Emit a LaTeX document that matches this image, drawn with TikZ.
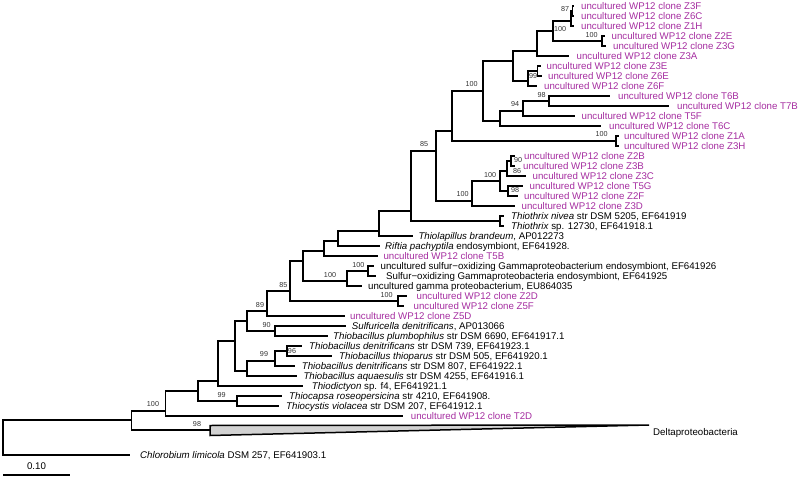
\documentclass[tikz,border=0pt]{standalone}
\usepackage{fontspec}
\setmainfont{Liberation Sans}
\usetikzlibrary{calc}
\definecolor{clone}{RGB}{165,45,160}
% internal node: x, then the two leaves its height lies between
\newcommand\inode[4]{\path let \p1=(#3), \p2=(#4) in coordinate (#1) at (#2pt,{0.5*(\y1+\y2)});}
\newcommand\lf[6][black]{\node[leaf,text=#1,inner xsep=#5pt] (#2) at (#3,#4) {#6};}
\newcommand\bb[2]{\draw[br] (#1) |- (#2);}
\begin{document}
\begin{tikzpicture}[x=1pt,y=-1pt,
  leaf/.style={anchor=west, inner ysep=0pt, text height=7pt, text depth=0pt, font=\fontsize{9.7}{11}\selectfont},
  bs/.style={inner sep=0pt, font=\fontsize{7.2}{8}\selectfont, text=black!80},
  br/.style={line width=1.5pt}]
\useasboundingbox (0,0) rectangle (800,478);
% leaves
\lf[clone]{Z3F}{574}{6}{7}{uncultured WP12 clone Z3F}
\lf[clone]{Z6C}{574}{16}{7}{uncultured WP12 clone Z6C}
\lf[clone]{Z1H}{574}{26}{7}{uncultured WP12 clone Z1H}
\lf[clone]{Z2E}{604.5}{36}{7}{uncultured WP12 clone Z2E}
\lf[clone]{Z3G}{606}{46}{7}{uncultured WP12 clone Z3G}
\lf[clone]{Z3A}{569}{56}{7.5}{uncultured WP12 clone Z3A}
\lf[clone]{Z3E}{540.5}{66}{6}{uncultured WP12 clone Z3E}
\lf[clone]{Z6E}{541.5}{76}{6.5}{uncultured WP12 clone Z6E}
\lf[clone]{Z6F}{537}{86}{7}{uncultured WP12 clone Z6F}
\lf[clone]{T6B}{610}{96}{8}{uncultured WP12 clone T6B}
\lf[clone]{T7B}{669}{106}{8}{uncultured WP12 clone T7B}
\lf[clone]{T5F}{574.5}{116}{7}{uncultured WP12 clone T5F}
\lf[clone]{T6C}{601}{126}{8}{uncultured WP12 clone T6C}
\lf[clone]{Z1A}{618.5}{136}{5.5}{uncultured WP12 clone Z1A}
\lf[clone]{Z3H}{618.5}{146}{5.5}{uncultured WP12 clone Z3H}
\lf[clone]{Z2B}{515}{156}{9}{uncultured WP12 clone Z2B}
\lf[clone]{Z3B}{515}{166}{8}{uncultured WP12 clone Z3B}
\lf[clone]{Z3C}{526}{176}{6.5}{uncultured WP12 clone Z3C}
\lf[clone]{T5G}{523}{186}{6.5}{uncultured WP12 clone T5G}
\lf[clone]{Z2F}{518}{196}{6}{uncultured WP12 clone Z2F}
\lf[clone]{Z3D}{515}{206}{6.5}{uncultured WP12 clone Z3D}
\lf{Tniv}{503.5}{216}{7.5}{\textit{Thiothrix nivea} str DSM 5205, EF641919}
\lf{Tsp}{503.5}{226}{7.5}{\textit{Thiothrix} sp. 12730, EF641918.1}
\lf{Tlap}{413}{236}{5.3}{\textit{Thiolapillus brandeum}, AP012273}
\lf{Rift}{380}{246}{5}{\textit{Riftia pachyptila} endosymbiont, EF641928.}
\lf[clone]{T5B}{378}{256}{5.3}{uncultured WP12 clone T5B}
\lf{Usox}{374}{266}{6.5}{uncultured sulfur−oxidizing Gammaproteobacterium endosymbiont, EF641926}
\lf{Sox}{376}{276}{10}{Sulfur−oxidizing Gammaproteobacteria endosymbiont, EF641925}
\lf{Ugam}{362}{286}{6}{uncultured gamma proteobacterium, EU864035}
\lf[clone]{Z2D}{407}{296}{9.5}{uncultured WP12 clone Z2D}
\lf[clone]{Z5F}{404}{306}{9.5}{uncultured WP12 clone Z5F}
\lf[clone]{Z5D}{345}{316}{5}{uncultured WP12 clone Z5D}
\lf{Sden}{346}{326}{5.7}{\textit{Sulfuricella denitrificans}, AP013066}
\lf{Tplu}{328}{336}{5}{\textit{Thiobacillus plumbophilus} str DSM 6690, EF641917.1}
\lf{Tden1}{302}{346}{7}{\textit{Thiobacillus denitrificans} str DSM 739, EF641923.1}
\lf{Tthi}{332}{356}{7}{\textit{Thiobacillus thioparus} str DSM 505, EF641920.1}
\lf{Tden2}{295}{366}{6.7}{\textit{Thiobacillus denitrificans} str DSM 807, EF641922.1}
\lf{Taqu}{297}{376}{6.3}{\textit{Thiobacillus aquaesulis} str DSM 4255, EF641916.1}
\lf{Tdic}{303}{386}{8.7}{\textit{Thiodictyon} sp. f4, EF641921.1}
\lf{Tcap}{282}{396}{7}{\textit{Thiocapsa roseopersicina} str 4210, EF641908.}
\lf{Tcys}{279}{406}{7}{\textit{Thiocystis violacea} str DSM 207, EF641912.1}
\lf[clone]{T2D}{403}{416}{7.7}{uncultured WP12 clone T2D}
\lf{Chl}{130}{455}{10}{\textit{Chlorobium limicola} DSM 257, EF641903.1}
% internal nodes (height between the last leaf above and the first leaf below)
\inode{nA}{572.5}{Z3F}{Z6C}
\inode{nB}{571}{Z6C}{Z1H}
\inode{nD}{602}{Z2E}{Z3G}
\inode{nC}{553}{Z1H}{Z2E}
\inode{nE}{537}{Z3G}{Z3A}
\inode{nF}{537.5}{Z3E}{Z6E}
\inode{nG}{528}{Z6E}{Z6F}
\inode{nH}{513}{Z3A}{Z3E}
\inode{nI}{549}{T6B}{T7B}
\inode{nJ}{523}{T7B}{T5F}
\inode{nK}{500}{T5F}{T6C}
\inode{nL}{483}{Z6F}{T6B}
\inode{nM}{616}{Z1A}{Z3H}
\inode{nN}{452}{T6C}{Z1A}
\inode{nO}{511}{Z2B}{Z3B}
\inode{nP}{507}{Z3B}{Z3C}
\inode{nQ}{508}{T5G}{Z2F}
\inode{nR}{500}{Z3C}{T5G}
\inode{nS}{472}{Z2F}{Z3D}
\inode{nT}{436}{Z3H}{Z2B}
\inode{nV}{500}{Tniv}{Tsp}
\inode{nU}{411}{Z3D}{Tniv}
\inode{nW}{379}{Tsp}{Tlap}
\inode{nX}{338}{Tlap}{Rift}
\inode{nY}{324}{Rift}{T5B}
\inode{nZa}{368}{Usox}{Sox}
\inode{nZb}{347}{Sox}{Ugam}
\inode{nZc}{303}{T5B}{Usox}
\inode{nZd}{398}{Z2D}{Z5F}
\inode{nZe}{290}{Ugam}{Z2D}
\inode{nEig}{267}{Z5F}{Z5D}
\inode{nNin}{275}{Sden}{Tplu}
\inode{nGa}{247}{Z5D}{Sden}
\inode{nSix}{287}{Tden1}{Tthi}
\inode{nNn}{275}{Tthi}{Tden2}
\inode{nAq}{247}{Tden2}{Taqu}
\inode{nGb}{235}{Tplu}{Tden1}
\inode{nDd}{218}{Taqu}{Tdic}
\inode{nEe}{237}{Tcap}{Tcys}
\inode{nCc}{198}{Tdic}{Tcap}
\inode{nBb}{165.7}{Tcys}{T2D}
\coordinate (dl) at (210,430);
\coordinate (nAa) at (131.7,420);
\coordinate (root) at (3,437);
% branches
\bb{nA}{Z3F.west}\bb{nA}{Z6C.west}
\bb{nB}{nA}\bb{nB}{Z1H.west}
\bb{nD}{Z2E.west}\bb{nD}{Z3G.west}
\bb{nC}{nB}\bb{nC}{nD}
\bb{nE}{nC}\bb{nE}{Z3A.west}
\bb{nF}{Z3E.west}\bb{nF}{Z6E.west}
\bb{nG}{nF}\bb{nG}{Z6F.west}
\bb{nH}{nE}\bb{nH}{nG}
\bb{nI}{T6B.west}\bb{nI}{T7B.west}
\bb{nJ}{nI}\bb{nJ}{T5F.west}
\bb{nK}{nJ}\bb{nK}{T6C.west}
\bb{nL}{nH}\bb{nL}{nK}
\bb{nM}{Z1A.west}\bb{nM}{Z3H.west}
\bb{nN}{nL}\bb{nN}{nM}
\bb{nO}{Z2B.west}\bb{nO}{Z3B.west}
\bb{nP}{nO}\bb{nP}{Z3C.west}
\bb{nQ}{T5G.west}\bb{nQ}{Z2F.west}
\bb{nR}{nP}\bb{nR}{nQ}
\bb{nS}{nR}\bb{nS}{Z3D.west}
\bb{nT}{nN}\bb{nT}{nS}
\bb{nV}{Tniv.west}\bb{nV}{Tsp.west}
\bb{nU}{nT}\bb{nU}{nV}
\bb{nW}{nU}\bb{nW}{Tlap.west}
\bb{nX}{nW}\bb{nX}{Rift.west}
\bb{nY}{nX}\bb{nY}{T5B.west}
\bb{nZa}{Usox.west}\bb{nZa}{Sox.west}
\bb{nZb}{nZa}\bb{nZb}{Ugam.west}
\bb{nZc}{nY}\bb{nZc}{nZb}
\bb{nZd}{Z2D.west}\bb{nZd}{Z5F.west}
\bb{nZe}{nZc}\bb{nZe}{nZd}
\bb{nEig}{nZe}\bb{nEig}{Z5D.west}
\bb{nNin}{Sden.west}\bb{nNin}{Tplu.west}
\bb{nGa}{nEig}\bb{nGa}{nNin}
\bb{nSix}{Tden1.west}\bb{nSix}{Tthi.west}
\bb{nNn}{nSix}\bb{nNn}{Tden2.west}
\bb{nAq}{nNn}\bb{nAq}{Taqu.west}
\bb{nGb}{nGa}\bb{nGb}{nAq}
\bb{nDd}{nGb}\bb{nDd}{Tdic.west}
\bb{nEe}{Tcap.west}\bb{nEe}{Tcys.west}
\bb{nCc}{nDd}\bb{nCc}{nEe}
\bb{nBb}{nCc}\bb{nBb}{T2D.west}
\bb{nAa}{nBb}\bb{nAa}{dl}
\bb{root}{nAa}\bb{root}{Chl.west}
% collapsed Deltaproteobacteria
\coordinate (dlt) at (210,425.5);
\coordinate (dlb) at (210,435.5);
\coordinate (dtip) at (649,425);
\filldraw[br, fill=gray!35] (dlt) -- (dtip) -- (dlb) -- cycle;
\node[leaf, inner xsep=0pt] (dlab) at (653,431.5) {Deltaproteobacteria};
% bootstrap values
\node[bs] (b01) at (565,9.3) {87};
\node[bs] (b02) at (560,29.5) {100};
\node[bs] (b03) at (591.7,35) {100};
\node[bs] (b04) at (533,76.5) {99};
\node[bs] (b05) at (541.7,95.5) {98};
\node[bs] (b06) at (515,104) {94};
\node[bs] (b07) at (471.7,84.5) {100};
\node[bs] (b08) at (601.7,134.5) {100};
\node[bs] (b09) at (424,144.5) {85};
\node[bs] (b10) at (518,160) {90};
\node[bs] (b11) at (517,171.5) {86};
\node[bs] (b12) at (515,190.5) {98};
\node[bs] (b13) at (490,175) {100};
\node[bs] (b14) at (462.5,194.5) {100};
\node[bs] (b15) at (358.3,265.5) {100};
\node[bs] (b16) at (330,275.5) {100};
\node[bs] (b17) at (386.7,295) {100};
\node[bs] (b18) at (283.3,285.5) {85};
\node[bs] (b19) at (260,305) {89};
\node[bs] (b20) at (266.7,325) {90};
\node[bs] (b21) at (292,351) {96};
\node[bs] (b22) at (264,354) {99};
\node[bs] (b23) at (221.7,395.5) {99};
\node[bs] (b24) at (153,404.5) {100};
\node[bs] (b25) at (197,424.5) {98};
% scale bar
\coordinate (sb1) at (3,475);
\coordinate (sb2) at (70,475);
\draw[br] (sb1) -- (sb2);
\node[inner sep=0pt, font=\fontsize{9.7}{11}\selectfont] (sbl) at (36.5,466.5) {0.10};
\end{tikzpicture}
\end{document}
